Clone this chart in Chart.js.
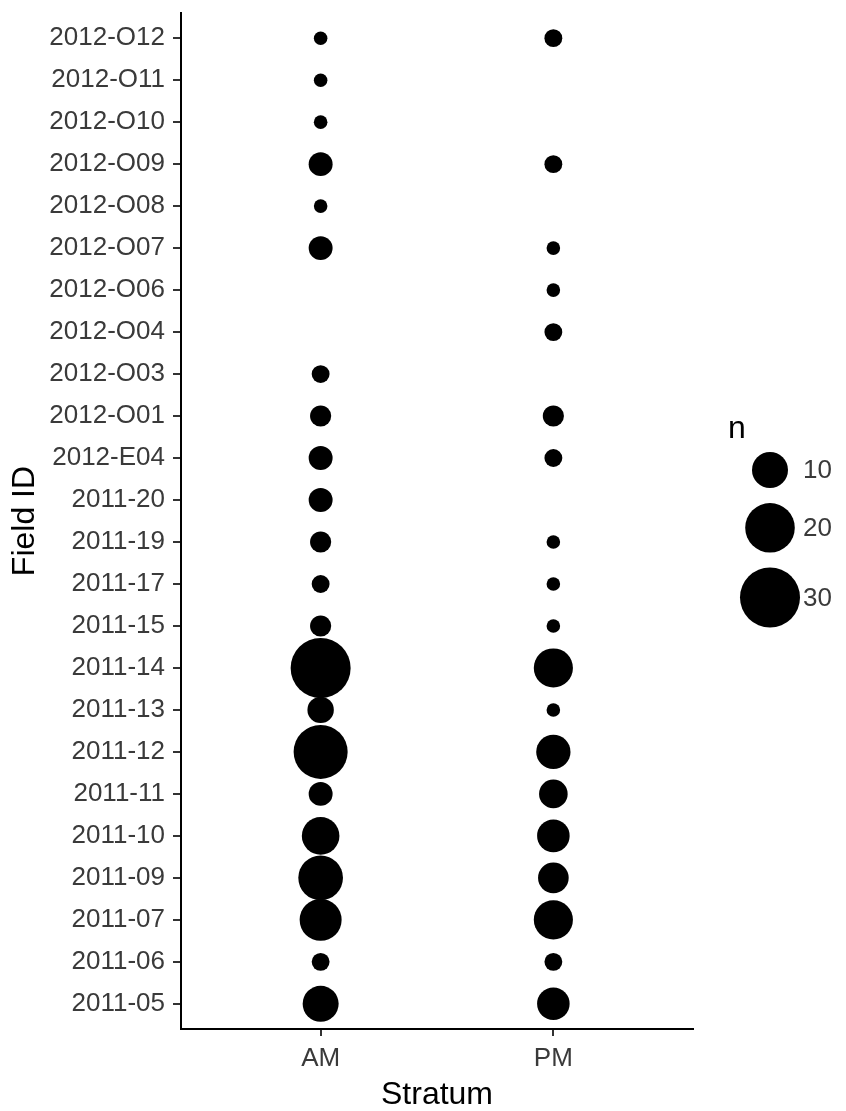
<!DOCTYPE html>
<html>
<head>
<meta charset="utf-8">
<script src="https://cdn.jsdelivr.net/npm/chart.js@4.4.0/dist/chart.umd.min.js"></script>
<style>
    html, body { margin: 0; padding: 0; background: #fff; }
    #wrap { width: 846px; height: 1111px; position: relative; }
</style>
</head>
<body>
<div id="wrap"><canvas id="bubbleChart" width="846" height="1111"></canvas></div>
<script>
// Field IDs, bottom to top (as in the y axis)
const fieldIds = ['2011-05', '2011-06', '2011-07', '2011-09', '2011-10', '2011-11', '2011-12', '2011-13',
    '2011-14', '2011-15', '2011-17', '2011-19', '2011-20', '2012-E04', '2012-O01', '2012-O03',
    '2012-O04', '2012-O06', '2012-O07', '2012-O08', '2012-O09', '2012-O10', '2012-O11', '2012-O12'];
const strata = ['AM', 'PM'];
// counts per field (null = no observation)
const amCounts = [10, 2, 14, 16, 11, 4, 24, 5, 30, 3, 2, 3, 4, 4, 3, 2, null, null, 4, 1, 4, 1, 1, 1];
const pmCounts = [8, 2, 12, 7, 8, 6, 9, 1, 12, 1, 1, 1, null, 2, 3, null, 2, 1, 1, null, 2, null, null, 2];
const legendBreaks = [10, 20, 30];

// area-style size scale (diameter in px grows with sqrt(n))
function radiusFor(n) {
    return (3.2 + 10.37 * Math.sqrt(n)) / 2;
}

function buildPoints() {
    const pts = [];
    [amCounts, pmCounts].forEach(function(counts, s) {
        counts.forEach(function(n, i) {
            if (n === null) return;
            pts.push({ x: s + 1, y: i + 1, r: radiusFor(n), n: n });
        });
    });
    return pts;
}

const tickFont = { family: 'Liberation Sans, Arial, sans-serif', size: 26 };
const titleFont = { family: 'Liberation Sans, Arial, sans-serif', size: 32, lineHeight: 1 };
const tickColor = '#3a3a3a';

// size legend drawn to the right of the plot
const sizeLegend = {
    id: 'sizeLegend',
    afterDraw(chart) {
        const ctx = chart.ctx;
        const area = chart.chartArea;
        const cx = area.right + 77;
        ctx.save();
        ctx.fillStyle = '#000';
        ctx.font = '32px Liberation Sans, Arial, sans-serif';
        ctx.textBaseline = 'alphabetic';
        ctx.textAlign = 'left';
        ctx.fillText('n', area.right + 35, 438);
        let y = 470;
        let prevR = null;
        legendBreaks.forEach(function(b) {
            const r = radiusFor(b);
            if (prevR !== null) y += prevR + r + 15;
            ctx.beginPath();
            ctx.arc(cx, y, r, 0, Math.PI * 2);
            ctx.fill();
            ctx.fillStyle = tickColor;
            ctx.font = '26px Liberation Sans, Arial, sans-serif';
            ctx.textBaseline = 'middle';
            ctx.fillText(String(b), area.right + 110, y + 1);
            ctx.fillStyle = '#000';
            prevR = r;
        });
        ctx.restore();
    }
};

const ctx = document.getElementById('bubbleChart').getContext('2d');
const chart = new Chart(ctx, {
    type: 'bubble',
    data: {
        datasets: [{
            label: 'n',
            data: buildPoints(),
            backgroundColor: '#000',
            borderWidth: 0,
            hoverRadius: 0,
            clip: false
        }]
    },
    options: {
        responsive: false,
        animation: false,
        events: [],
        layout: { autoPadding: false, padding: { top: 13, right: 153, left: 0, bottom: 0 } },
        plugins: {
            legend: { display: false },
            tooltip: { enabled: false }
        },
        scales: {
            x: {
                type: 'linear',
                min: 0.4,
                max: 2.6,
                afterBuildTicks: function(scale) {
                    scale.ticks = strata.map(function(_, i) { return { value: i + 1 }; });
                },
                afterFit: function(scale) {
                    scale.height = 82;
                    scale.paddingLeft = 0;
                    scale.paddingRight = 0;
                },
                ticks: {
                    autoSkip: false,
                    padding: 7,
                    color: tickColor,
                    font: tickFont,
                    callback: function(value) { return strata[value - 1]; }
                },
                grid: { drawOnChartArea: false, drawTicks: true, tickLength: 7, color: '#333', lineWidth: 2 },
                border: { display: true, color: '#000', width: 2 },
                title: { display: true, text: 'Stratum', color: '#000', font: titleFont, padding: { top: 0, bottom: 0 } }
            },
            y: {
                type: 'linear',
                min: 0.4,
                max: 24.6,
                afterBuildTicks: function(scale) {
                    scale.ticks = fieldIds.map(function(_, i) { return { value: i + 1 }; });
                },
                afterFit: function(scale) {
                    scale.width = 181;
                    scale.paddingTop = 0;
                    scale.paddingBottom = 0;
                },
                ticks: {
                    autoSkip: false,
                    padding: 8,
                    color: tickColor,
                    font: tickFont,
                    callback: function(value) { return fieldIds[value - 1]; }
                },
                grid: { drawOnChartArea: false, drawTicks: true, tickLength: 8, color: '#333', lineWidth: 2 },
                border: { display: true, color: '#000', width: 2 },
                title: { display: true, text: 'Field ID', color: '#000', font: titleFont, padding: { top: 9, bottom: 0 } }
            }
        }
    },
    plugins: [sizeLegend]
});
</script>
</body>
</html>
